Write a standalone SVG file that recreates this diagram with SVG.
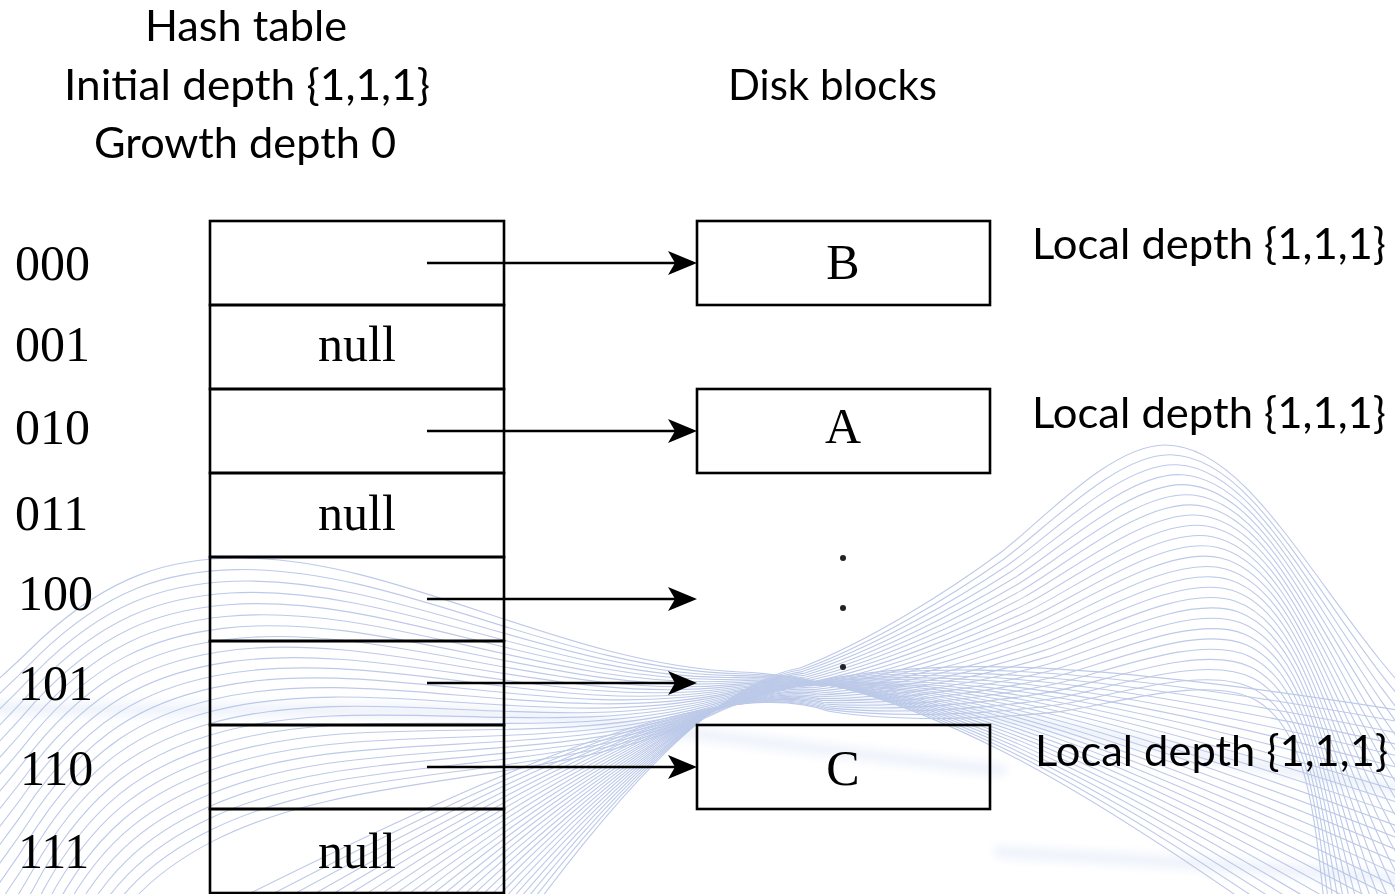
<svg xmlns="http://www.w3.org/2000/svg" xmlns:xlink="http://www.w3.org/1999/xlink" width="1395" height="894" viewBox="0 0 1395 894">
  <style>
    .wave{fill:none;stroke:#b1c0e4;stroke-width:1.1;opacity:.85}
    .band{fill:none;stroke:#e6ecf8;stroke-width:14;stroke-linecap:round;opacity:.6}
    .cell{fill:none;stroke:#000;stroke-width:2.6}
    .box{fill:none;stroke:#000;stroke-width:2.6}
    .serif{font-family:"Liberation Serif","Times New Roman",serif;font-size:50px;fill:#000}
    .mid{text-anchor:middle}
    .sans{font-family:Lato,"Liberation Sans",sans-serif;font-size:43px;fill:#000}
    .conn{fill:none;stroke:#000;stroke-width:2.6}
  </style>
  <defs>
    <!-- left hump: rises over x≈240, settles into the trough, then slides away to the lower right -->
    <path id="waveL" d="M-300,860 C-150,800 -40,720 40,640 C110,575 170,558 240,558 C400,558 560,664 740,672 C820,675 900,700 1000,750 C1100,800 1250,900 1450,1050"/>
    <!-- right arch: climbs out of the trough to the crest at x≈1165 and falls off the right edge -->
    <path id="waveR" d="M300,1250 C480,980 660,693 800,668 C870,641 950,590 1000,553 C1040,523 1110,445 1165,445 C1240,445 1300,560 1380,660 C1460,760 1580,850 1700,900"/>
    <marker id="arrow" markerUnits="userSpaceOnUse" viewBox="-23 -13 31 26" refX="0" refY="0" markerWidth="31" markerHeight="26" orient="auto">
      <path d="M7,0 L-22,-12 L-15,0 L-22,12 Z" fill="#000"/>
    </marker>
    <filter id="soft" x="-5%" y="-50%" width="110%" height="200%">
      <feGaussianBlur stdDeviation="4"/>
    </filter>
  </defs>

  <rect width="1395" height="894" fill="#fff"/>

  <!-- decorative wave background -->
  <g id="background">
    <g filter="url(#soft)">
      <path class="band" d="M-10,708 C200,712 400,705 550,718 C700,732 850,755 1000,770"/>
      <path class="band" d="M830,700 C1000,705 1200,760 1405,790"/>
      <path class="band" d="M1000,852 C1150,860 1300,870 1405,880" opacity=".35"/>
    </g>
    <g class="wave">
      <use xlink:href="#waveL" href="#waveL"/>
      <use href="#waveL" transform="translate(-1.2,1.8) rotate(-1.125 740 672)"/>
      <use href="#waveL" transform="translate(-2.4,3.6) rotate(-2.25 740 672)"/>
      <use href="#waveL" transform="translate(-3.6,5.4) rotate(-3.375 740 672)"/>
      <use href="#waveL" transform="translate(-4.8,7.2) rotate(-4.5 740 672)"/>
      <use href="#waveL" transform="translate(-6,9) rotate(-5.625 740 672)"/>
      <use href="#waveL" transform="translate(-7.2,10.8) rotate(-6.75 740 672)"/>
      <use href="#waveL" transform="translate(-8.4,12.6) rotate(-7.875 740 672)"/>
      <use href="#waveL" transform="translate(-9.6,14.4) rotate(-9 740 672)"/>
      <use href="#waveL" transform="translate(-10.8,16.2) rotate(-10.125 740 672)"/>
      <use href="#waveL" transform="translate(-12,18) rotate(-11.25 740 672)"/>
      <use href="#waveL" transform="translate(-13.2,19.8) rotate(-12.375 740 672)"/>
      <use href="#waveL" transform="translate(-14.4,21.6) rotate(-13.5 740 672)"/>
      <use href="#waveL" transform="translate(-15.6,23.4) rotate(-14.625 740 672)"/>
      <use href="#waveL" transform="translate(-16.8,25.2) rotate(-15.75 740 672)"/>
      <use href="#waveL" transform="translate(-18,27) rotate(-16.875 740 672)"/>
      <use href="#waveL" transform="translate(-19.2,28.8) rotate(-18 740 672)"/>
      <use href="#waveL" transform="translate(-20.4,30.6) rotate(-19.125 740 672)"/>
      <use href="#waveL" transform="translate(-21.6,32.4) rotate(-20.25 740 672)"/>
      <use href="#waveL" transform="translate(-22.8,34.2) rotate(-21.375 740 672)"/>
      <use href="#waveL" transform="translate(-24,36) rotate(-22.5 740 672)"/>
      <use href="#waveL" transform="translate(-25.2,37.8) rotate(-23.625 740 672)"/>
      <use href="#waveL" transform="translate(-26.4,39.6) rotate(-24.75 740 672)"/>
      <use href="#waveL" transform="translate(-27.6,41.4) rotate(-25.875 740 672)"/>
      <use href="#waveL" transform="translate(-28.8,43.2) rotate(-27 740 672)"/>

      <use href="#waveR"/>
      <use href="#waveR" transform="translate(1.2,1.8) rotate(1.25 800 668)"/>
      <use href="#waveR" transform="translate(2.4,3.6) rotate(2.5 800 668)"/>
      <use href="#waveR" transform="translate(3.6,5.4) rotate(3.75 800 668)"/>
      <use href="#waveR" transform="translate(4.8,7.2) rotate(5 800 668)"/>
      <use href="#waveR" transform="translate(6,9) rotate(6.25 800 668)"/>
      <use href="#waveR" transform="translate(7.2,10.8) rotate(7.5 800 668)"/>
      <use href="#waveR" transform="translate(8.4,12.6) rotate(8.75 800 668)"/>
      <use href="#waveR" transform="translate(9.6,14.4) rotate(10 800 668)"/>
      <use href="#waveR" transform="translate(10.8,16.2) rotate(11.25 800 668)"/>
      <use href="#waveR" transform="translate(12,18) rotate(12.5 800 668)"/>
      <use href="#waveR" transform="translate(13.2,19.8) rotate(13.75 800 668)"/>
      <use href="#waveR" transform="translate(14.4,21.6) rotate(15 800 668)"/>
      <use href="#waveR" transform="translate(15.6,23.4) rotate(16.25 800 668)"/>
      <use href="#waveR" transform="translate(16.8,25.2) rotate(17.5 800 668)"/>
      <use href="#waveR" transform="translate(18,27) rotate(18.75 800 668)"/>
      <use href="#waveR" transform="translate(19.2,28.8) rotate(20 800 668)"/>
      <use href="#waveR" transform="translate(20.4,30.6) rotate(21.25 800 668)"/>
      <use href="#waveR" transform="translate(21.6,32.4) rotate(22.5 800 668)"/>
      <use href="#waveR" transform="translate(22.8,34.2) rotate(23.75 800 668)"/>
      <use href="#waveR" transform="translate(24,36) rotate(25 800 668)"/>
      <use href="#waveR" transform="translate(25.2,37.8) rotate(26.25 800 668)"/>
      <use href="#waveR" transform="translate(26.4,39.6) rotate(27.5 800 668)"/>
      <use href="#waveR" transform="translate(27.6,41.4) rotate(28.75 800 668)"/>
      <use href="#waveR" transform="translate(28.8,43.2) rotate(30 800 668)"/>
    </g>
  </g>

  <!-- headings -->
  <g id="hash-table-title" class="sans">
    <text x="145" y="41" textLength="202" lengthAdjust="spacingAndGlyphs">Hash table</text>
    <text x="64" y="100" textLength="366" lengthAdjust="spacingAndGlyphs">Initial depth {1,1,1}</text>
    <text x="94" y="158" textLength="302" lengthAdjust="spacingAndGlyphs">Growth depth 0</text>
  </g>
  <g id="disk-blocks-title" class="sans">
    <text x="728" y="100" textLength="209" lengthAdjust="spacingAndGlyphs">Disk blocks</text>
  </g>

  <!-- hash table rows -->
  <g id="row-000">
    <rect class="cell" x="210" y="221" width="294" height="84"/>
    <text class="serif" x="15" y="280">000</text>
  </g>
  <g id="row-001">
    <rect class="cell" x="210" y="305" width="294" height="84"/>
    <text class="serif" x="15" y="361">001</text>
    <text class="serif mid" x="357" y="361">null</text>
  </g>
  <g id="row-010">
    <rect class="cell" x="210" y="389" width="294" height="84"/>
    <text class="serif" x="15" y="444">010</text>
  </g>
  <g id="row-011">
    <rect class="cell" x="210" y="473" width="294" height="84"/>
    <text class="serif" x="15" y="530">011</text>
    <text class="serif mid" x="357" y="530">null</text>
  </g>
  <g id="row-100">
    <rect class="cell" x="210" y="557" width="294" height="84"/>
    <text class="serif" x="18" y="610">100</text>
  </g>
  <g id="row-101">
    <rect class="cell" x="210" y="641" width="294" height="84"/>
    <text class="serif" x="18" y="700">101</text>
  </g>
  <g id="row-110">
    <rect class="cell" x="210" y="725" width="294" height="84"/>
    <text class="serif" x="20" y="785">110</text>
  </g>
  <g id="row-111">
    <rect class="cell" x="210" y="809" width="294" height="84"/>
    <text class="serif" x="18" y="868">111</text>
    <text class="serif mid" x="357" y="868">null</text>
  </g>

  <!-- disk blocks -->
  <g id="block-B">
    <rect class="box" x="697" y="221" width="293" height="84"/>
    <text class="serif mid" x="843" y="279">B</text>
    <text class="sans" x="1032" y="259" textLength="354" lengthAdjust="spacingAndGlyphs">Local depth {1,1,1}</text>
  </g>
  <g id="block-A">
    <rect class="box" x="697" y="389" width="293" height="84"/>
    <text class="serif mid" x="843" y="443">A</text>
    <text class="sans" x="1032" y="428" textLength="354" lengthAdjust="spacingAndGlyphs">Local depth {1,1,1}</text>
  </g>
  <g id="ellipsis" fill="#222">
    <circle cx="843" cy="558" r="3"/>
    <circle cx="843" cy="608" r="3"/>
    <circle cx="843" cy="667" r="3"/>
  </g>
  <g id="block-C">
    <rect class="box" x="697" y="725" width="293" height="84"/>
    <text class="serif mid" x="843" y="785">C</text>
    <text class="sans" x="1035" y="766" textLength="353" lengthAdjust="spacingAndGlyphs">Local depth {1,1,1}</text>
  </g>

  <!-- pointers from table slots to blocks -->
  <g id="connectors" class="conn">
    <path d="M427,263 H690" marker-end="url(#arrow)"/>
    <path d="M427,431 H690" marker-end="url(#arrow)"/>
    <path d="M427,599 H690" marker-end="url(#arrow)"/>
    <path d="M427,683 H690" marker-end="url(#arrow)"/>
    <path d="M427,767 H690" marker-end="url(#arrow)"/>
  </g>
</svg>
